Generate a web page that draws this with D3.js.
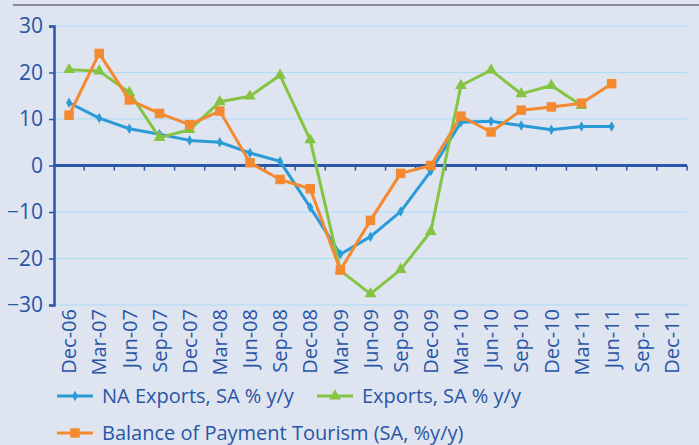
<!DOCTYPE html>
<meta charset="utf-8">
<style>
body {
  margin: 0;
  background: #dfe4f1;
  font-family: "Open Sans", sans-serif;
}
svg text {
  fill: #2855a5;
}
.grid line {
  stroke: #aadcf3;
  stroke-width: 1.2;
}
.series .line {
  fill: none;
  stroke-width: 3;
  stroke-linejoin: round;
}
</style>
<body>
<script src="https://cdn.jsdelivr.net/npm/d3@7"></script>
<script>

var width = 699,
    height = 445;

var categories = ["Dec-06", "Mar-07", "Jun-07", "Sep-07", "Dec-07", "Mar-08", "Jun-08",
  "Sep-08", "Dec-08", "Mar-09", "Jun-09", "Sep-09", "Dec-09", "Mar-10", "Jun-10",
  "Sep-10", "Dec-10", "Mar-11", "Jun-11", "Sep-11", "Dec-11"];

var naExports = [13.5, 10.2, 7.9, 6.7, 5.4, 5.0, 2.7, 0.9, -9.0, -19.1, -15.3, -9.9,
  -1.2, 9.3, 9.5, 8.6, 7.7, 8.4, 8.4, null, null];

var exports_ = [20.6, 20.3, 15.7, 6.0, 7.7, 13.7, 14.9, 19.4, 5.5, -22.6, -27.6, -22.4,
  -14.2, 17.2, 20.5, 15.4, 17.2, 12.9, null, null, null];

var tourism = [10.8, 24.1, 14.1, 11.2, 8.8, 11.7, 0.6, -3.0, -5.0, -22.5, -11.8, -1.7,
  0.0, 10.6, 7.2, 11.9, 12.6, 13.4, 17.6, null, null];

var yTicks = [-30, -20, -10, 0, 10, 20, 30];

var seriesNames = ["NA Exports, SA % y/y", "Exports, SA % y/y",
  "Balance of Payment Tourism (SA, %y/y)"];

var colors = ["#2b9bd6", "#85c443", "#f5892f"];
var axisColor = "#2a56a6";

var svg = d3.select("body").append("svg")
    .attr("width", width)
    .attr("height", height);

// top rule
svg.append("line")
    .attr("x1", 13).attr("x2", width)
    .attr("y1", 5).attr("y2", 5)
    .attr("stroke", "#8a8c94")
    .attr("stroke-width", 2);

var x = d3.scaleBand()
    .domain(categories)
    .range([54, 687]);

var y = d3.scaleLinear()
    .domain([-30, 30])
    .range([305, 26]);

// gridlines
svg.append("g")
    .attr("class", "grid")
  .selectAll("line")
    .data(yTicks.filter(function(d) { return d !== 0; }))
  .enter().append("line")
    .attr("x1", 54).attr("x2", 687)
    .attr("y1", function(d) { return y(d); })
    .attr("y2", function(d) { return y(d); });

// y axis
var yAxis = svg.append("g")
    .attr("transform", "translate(54,0)")
    .call(d3.axisLeft(y).tickValues(yTicks).tickSize(5).tickPadding(6));

yAxis.select(".domain")
    .attr("stroke", axisColor)
    .attr("stroke-width", 2.5);
yAxis.selectAll(".tick line")
    .attr("stroke", axisColor)
    .attr("stroke-width", 1.5);
yAxis.selectAll(".tick text")
    .attr("fill", "#2855a5")
    .style("font-size", "21px")
    .style("font-family", "'Open Sans', sans-serif");

// zero line with category boundary ticks
var bounds = categories.map(function(c) { return x(c); }).concat([x.range()[1]]);

svg.append("g")
  .selectAll("line")
    .data(bounds.slice(1))
  .enter().append("line")
    .attr("x1", function(d) { return d; })
    .attr("x2", function(d) { return d; })
    .attr("y1", y(0))
    .attr("y2", y(0) + 5)
    .attr("stroke", axisColor)
    .attr("stroke-width", 1.5);

svg.append("line")
    .attr("x1", 54).attr("x2", 687)
    .attr("y1", y(0)).attr("y2", y(0))
    .attr("stroke", axisColor)
    .attr("stroke-width", 3);

// x labels
svg.append("g")
  .selectAll("text")
    .data(categories)
  .enter().append("text")
    .attr("transform", function(d) {
      return "translate(" + (x(d) + x.bandwidth() / 2) + ",309) rotate(-90)";
    })
    .attr("dy", "0.36em")
    .attr("text-anchor", "end")
    .style("font-size", "20px")
    .text(function(d) { return d; });

// series
var line = d3.line()
    .defined(function(d) { return d != null; })
    .x(function(d, i) { return x(categories[i]) + x.bandwidth() / 2; })
    .y(function(d) { return y(d); });

var allSeries = [naExports, exports_, tourism];

var symbols = [
  d3.symbol().type(d3.symbolDiamond).size(32),
  d3.symbol().type(d3.symbolTriangle).size(60),
  d3.symbol().type(d3.symbolSquare).size(90)
];

allSeries.forEach(function(vals, k) {
  var g = svg.append("g").attr("class", "series");
  g.append("path")
      .attr("class", "line")
      .attr("d", line(vals))
      .attr("stroke", colors[k]);
  g.selectAll(".pt")
      .data(vals.map(function(v, i) { return {v: v, i: i}; })
        .filter(function(d) { return d.v != null; }))
    .enter().append("path")
      .attr("class", "pt")
      .attr("transform", function(d) {
        return "translate(" + (x(categories[d.i]) + x.bandwidth() / 2) + "," + y(d.v) + ")";
      })
      .attr("d", symbols[k]())
      .attr("fill", colors[k]);
});

// legend
var legendPos = [[57, 396], [317, 396], [57, 433]];

var legend = svg.append("g")
  .selectAll("g")
    .data(seriesNames)
  .enter().append("g")
    .attr("transform", function(d, i) {
      return "translate(" + legendPos[i][0] + "," + legendPos[i][1] + ")";
    });

legend.append("line")
    .attr("x1", 0).attr("x2", 36)
    .attr("y1", 0).attr("y2", 0)
    .attr("stroke", function(d, i) { return colors[i]; })
    .attr("stroke-width", 3);

legend.append("path")
    .attr("transform", "translate(18,0)")
    .attr("d", function(d, i) { return symbols[i](); })
    .attr("fill", function(d, i) { return colors[i]; });

legend.append("text")
    .attr("x", 45)
    .attr("dy", "0.35em")
    .style("font-size", "20px")
    .text(function(d) { return d; });

</script>
